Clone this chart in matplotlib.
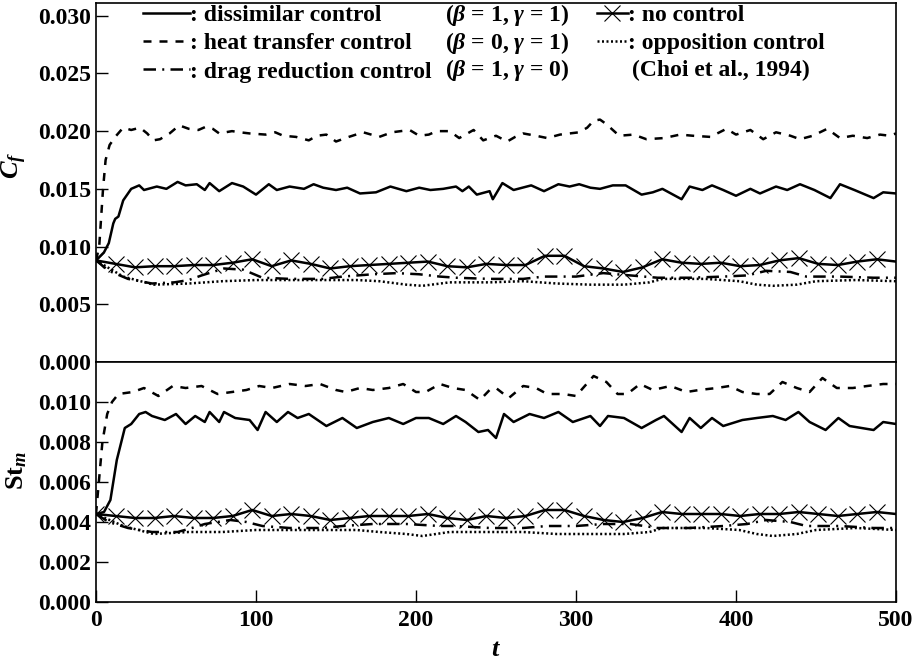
import numpy as np
import matplotlib
matplotlib.use("Agg")
import matplotlib.pyplot as plt

plt.rcParams['font.family'] = ['Liberation Serif', 'DejaVu Serif']
plt.rcParams['font.weight'] = 'bold'
plt.rcParams['mathtext.fontset'] = 'custom'
plt.rcParams['mathtext.rm'] = 'Liberation Serif:bold'
plt.rcParams['mathtext.it'] = 'Liberation Serif:italic:bold'
plt.rcParams['mathtext.bf'] = 'Liberation Serif:bold'

# === data: (t, value)
cf_dissimilar = [(0, 0.0088), (5, 0.0095), (8, 0.0103), (10.8, 0.0120), (12, 0.0124), (14, 0.0126),
                 (17, 0.0140), (22, 0.0150), (27, 0.0153), (30, 0.0149), (38, 0.0152), (44, 0.0150),
                 (51, 0.0156), (56, 0.0153), (63, 0.0154), (68, 0.0149), (71, 0.0155), (77, 0.0148),
                 (85, 0.0155), (92, 0.0152), (100, 0.0145), (108, 0.0154), (113, 0.0149), (121, 0.0152),
                 (130, 0.0150), (136, 0.0154), (142, 0.0151), (150, 0.0149), (157, 0.0151), (165, 0.0146),
                 (175, 0.0147), (184, 0.0152), (194, 0.0148), (202, 0.0151), (209, 0.0149), (217, 0.0150),
                 (225, 0.0152), (229, 0.0148), (233, 0.0152), (238, 0.0145), (246, 0.0148), (248, 0.0141),
                 (254, 0.0155), (261, 0.0149), (272, 0.0153), (280, 0.0148), (289, 0.0154), (296, 0.0152),
                 (302, 0.0154), (309, 0.0151), (315, 0.0150), (323, 0.0153), (331, 0.0153), (341, 0.0145),
                 (348, 0.0147), (354, 0.0150), (366, 0.0141), (371, 0.0152), (379, 0.0149), (385, 0.0153),
                 (392, 0.0149), (400, 0.0144), (409, 0.0150), (415, 0.0146), (425, 0.0152), (432, 0.0149),
                 (440, 0.0154), (449, 0.0149), (459, 0.0142), (465, 0.0154), (474, 0.0149), (486, 0.0142),
                 (492, 0.0147), (500, 0.0146)]

cf_heat = [(0, 0.0088), (2, 0.0100), (4.4, 0.0150), (6, 0.0175), (8.5, 0.0188), (12, 0.0195),
           (17, 0.0203), (22, 0.0201), (27.5, 0.0203), (32, 0.0198), (35.8, 0.0192), (40, 0.0193),
           (46, 0.0198), (52, 0.0205), (58, 0.0202), (64, 0.0201), (69, 0.0204), (73, 0.0202),
           (77, 0.0198), (85, 0.0200), (90, 0.0199), (96, 0.0198), (106, 0.0197), (112, 0.0199),
           (117, 0.0196), (125, 0.0195), (133, 0.0192), (138, 0.0196), (144, 0.0197), (150, 0.0191),
           (158, 0.0195), (167, 0.0199), (172, 0.0197), (177, 0.0195), (185, 0.0199), (196, 0.0201),
           (202, 0.0196), (208, 0.0197), (213, 0.0200), (221, 0.0200), (227, 0.0194), (236, 0.0201),
           (242, 0.0192), (250, 0.0196), (257, 0.0191), (262, 0.0195), (267, 0.0198), (275, 0.0196),
           (282, 0.0194), (290, 0.0197), (302, 0.0199), (307, 0.0203), (311, 0.0209), (315, 0.0210),
           (319, 0.0206), (327, 0.0196), (336, 0.0197), (344, 0.0193), (355, 0.0194), (365, 0.0197),
           (373, 0.0196), (384, 0.0195), (394, 0.0202), (400, 0.0197), (409, 0.0201), (417, 0.0193),
           (425, 0.0199), (434, 0.0196), (440, 0.0193), (448, 0.0196), (457, 0.0202), (465, 0.0194),
           (473, 0.0196), (482, 0.0194), (490, 0.0197), (496, 0.0196), (500, 0.0198)]

cf_drag = [(0, 0.0088), (8, 0.0079), (20, 0.0072), (35, 0.0068), (49, 0.0069), (58, 0.0071),
           (66, 0.0075), (80, 0.0081), (92, 0.0080), (104, 0.0073), (121, 0.0072), (142, 0.0072),
           (154, 0.0074), (173, 0.0076), (188, 0.0077), (202, 0.0076), (215, 0.0074), (225, 0.0073),
           (246, 0.0072), (267, 0.0072), (280, 0.0074), (300, 0.0074), (317, 0.0077), (334, 0.0075),
           (351, 0.0073), (371, 0.0073), (392, 0.0074), (407, 0.0075), (419, 0.0079), (434, 0.0078),
           (444, 0.0074), (465, 0.0074), (486, 0.0073), (500, 0.0073)]

cf_opposition = [(0, 0.0088), (17, 0.0074), (36, 0.0067), (58, 0.0068), (79, 0.0070), (100, 0.0071),
                 (121, 0.0071), (142, 0.0071), (163, 0.0071), (177, 0.0070), (194, 0.0067), (204, 0.0066),
                 (221, 0.0069), (246, 0.0069), (267, 0.0070), (288, 0.0068), (309, 0.0067), (330, 0.0067),
                 (346, 0.0069), (354, 0.0072), (381, 0.0072), (402, 0.0070), (413, 0.0067), (423, 0.0066),
                 (438, 0.0067), (450, 0.0070), (475, 0.0071), (500, 0.0070)]

# no control: values at the marker positions (every ~12.2 time units) + end point
t_nocontrol = [0, 12.2, 24.4, 36.6, 48.8, 61, 73.2, 85.4, 97.6, 109.8, 122, 134.2, 146.4, 158.6,
               170.8, 183, 195.2, 207.4, 219.6, 231.8, 244, 256.2, 268.4, 280.6, 292.8, 305, 317.2,
               329.4, 341.6, 353.8, 366, 378.2, 390.4, 402.6, 414.8, 427, 439.2, 451.4, 463.6, 475.8,
               488, 500]
cf_nocontrol = [0.0088, 0.0085, 0.0082, 0.0083, 0.0083, 0.0084, 0.0084, 0.0086, 0.0089, 0.0083,
                0.0088, 0.0085, 0.0081, 0.0083, 0.0084, 0.0085, 0.0086, 0.0087, 0.0083, 0.0082,
                0.0085, 0.0084, 0.0084, 0.0092, 0.0092, 0.0083, 0.0081, 0.0078, 0.0082, 0.0089,
                0.0086, 0.0085, 0.0086, 0.0083, 0.0084, 0.0088, 0.0090, 0.0085, 0.0084, 0.0087,
                0.0089, 0.0087]
st_nocontrol = [0.0044, 0.0043, 0.0042, 0.0042, 0.0043, 0.0042, 0.0042, 0.0043, 0.0046, 0.0043,
                0.0044, 0.0043, 0.0041, 0.0042, 0.0043, 0.0043, 0.0043, 0.0044, 0.0042, 0.0041,
                0.0043, 0.0042, 0.0043, 0.0046, 0.0046, 0.0043, 0.0041, 0.0040, 0.0042, 0.0045,
                0.0044, 0.0044, 0.0044, 0.0043, 0.0044, 0.0044, 0.0045, 0.0044, 0.0043, 0.0044,
                0.0045, 0.0044]

st_dissimilar = [(0, 0.0044), (5, 0.0045), (9, 0.0051), (13, 0.0071), (18, 0.0087), (22, 0.0089),
                 (27, 0.0094), (31, 0.0095), (35, 0.0093), (43, 0.0091), (50, 0.0094), (56, 0.0089),
                 (62, 0.0093), (68, 0.0090), (71, 0.0095), (77, 0.0090), (80, 0.0095), (87, 0.0092),
                 (96, 0.0091), (101, 0.0086), (106, 0.0095), (113, 0.0090), (120, 0.0095), (126, 0.0092),
                 (133, 0.0094), (144, 0.0088), (154, 0.0092), (163, 0.0087), (173, 0.0090), (183, 0.0092),
                 (192, 0.0089), (200, 0.0092), (208, 0.0092), (217, 0.0089), (225, 0.0093), (231, 0.0090),
                 (239, 0.0085), (245, 0.0086), (250, 0.0082), (255, 0.0094), (261, 0.0090), (271, 0.0094),
                 (280, 0.0092), (289, 0.0095), (298, 0.0090), (309, 0.0093), (315, 0.0088), (320, 0.0093),
                 (330, 0.0092), (341, 0.0087), (350, 0.0091), (355, 0.0093), (366, 0.0085), (371, 0.0092),
                 (378, 0.0087), (385, 0.0092), (392, 0.0088), (404, 0.0091), (413, 0.0092), (423, 0.0093),
                 (431, 0.0091), (439, 0.0095), (446, 0.0090), (456, 0.0086), (464, 0.0092), (471, 0.0088),
                 (486, 0.0086), (492, 0.0090), (500, 0.0089)]

st_heat = [(0, 0.0044), (2, 0.0062), (4, 0.0080), (7, 0.0094), (10, 0.0100), (14, 0.0104),
           (23, 0.0105), (30, 0.0107), (39, 0.0103), (48, 0.0108), (56, 0.0107), (66, 0.0108),
           (76, 0.0104), (85, 0.0105), (94, 0.0106), (102, 0.0108), (110, 0.0107), (121, 0.0109),
           (131, 0.0108), (140, 0.0109), (150, 0.0106), (156, 0.0105), (165, 0.0107), (173, 0.0106),
           (183, 0.0107), (192, 0.0109), (200, 0.0105), (206, 0.0105), (215, 0.0109), (223, 0.0107),
           (231, 0.0106), (240, 0.0101), (246, 0.0106), (250, 0.0107), (258, 0.0102), (267, 0.0108),
           (275, 0.0107), (282, 0.0104), (292, 0.0104), (300, 0.0103), (311, 0.0113), (319, 0.0110),
           (326, 0.0104), (332, 0.0104), (340, 0.0109), (348, 0.0106), (359, 0.0108), (369, 0.0105),
           (377, 0.0106), (388, 0.0107), (396, 0.0108), (404, 0.0105), (413, 0.0104), (421, 0.0104),
           (429, 0.0110), (438, 0.0107), (446, 0.0105), (454, 0.0112), (463, 0.0107), (473, 0.0107),
           (482, 0.0108), (492, 0.0109), (500, 0.0109)]

st_drag = [(0, 0.0044), (8, 0.0040), (20, 0.0037), (35, 0.0035), (51, 0.0035), (60, 0.0037),
           (68, 0.0039), (84, 0.0041), (94, 0.0040), (104, 0.0038), (121, 0.0037), (142, 0.0037),
           (154, 0.0038), (173, 0.0039), (194, 0.0039), (215, 0.0038), (225, 0.0038), (246, 0.0037),
           (267, 0.0037), (282, 0.0038), (300, 0.0038), (317, 0.0039), (334, 0.0039), (351, 0.0037),
           (371, 0.0037), (392, 0.0038), (407, 0.0039), (419, 0.0041), (434, 0.0040), (444, 0.0038),
           (465, 0.0038), (486, 0.0037), (500, 0.0037)]

st_opposition = [(0, 0.0044), (17, 0.0038), (36, 0.0034), (58, 0.0035), (79, 0.0035), (100, 0.0036),
                 (121, 0.0036), (142, 0.0036), (163, 0.0036), (177, 0.0035), (194, 0.0034), (204, 0.0033),
                 (221, 0.0035), (246, 0.0035), (267, 0.0035), (288, 0.0034), (309, 0.0034), (330, 0.0034),
                 (346, 0.0035), (354, 0.0037), (381, 0.0037), (402, 0.0036), (413, 0.0034), (423, 0.0033),
                 (438, 0.0034), (450, 0.0036), (475, 0.0037), (500, 0.0036)]

legend_names = [': dissimilar control', ': heat transfer control', ': drag reduction control']
legend_params = [r'($\beta$ = 1, $\gamma$ = 1)', r'($\beta$ = 0, $\gamma$ = 1)', r'($\beta$ = 1, $\gamma$ = 0)']

# === styles
LW = 1.8
sty_dis = dict(color='k', lw=LW, ls='-')
sty_heat = dict(color='k', lw=LW, ls=(0, (3.2, 3.2)))
sty_drag = dict(color='k', lw=LW, ls=(0, (5, 2.5, 0.8, 2.5)))
sty_opp = dict(color='k', lw=LW, ls=(0, (0.8, 1.0)))
sty_no = dict(color='k', lw=LW, ls='-', marker='x', ms=12, mew=0.8)

fig = plt.figure(figsize=(9.16, 6.66), dpi=100)
L, R = 96 / 916, 896 / 916
y_mid = 1 - 362 / 666
ax1 = fig.add_axes([L, y_mid, R - L, (1 - 3 / 666) - y_mid])
ax2 = fig.add_axes([L, 1 - 602 / 666, R - L, y_mid - (1 - 602 / 666)])


def xy(pairs):
    a = np.array(pairs)
    return a[:, 0], a[:, 1]


def draw(ax, dis, heat, drag, opp, nocon):
    h1, = ax.plot(*xy(dis), **sty_dis)
    h2, = ax.plot(*xy(heat), **sty_heat)
    h3, = ax.plot(*xy(drag), **sty_drag)
    h5, = ax.plot(*xy(opp), **sty_opp)
    h4, = ax.plot(t_nocontrol, nocon, markevery=list(range(len(t_nocontrol) - 1)), **sty_no)
    return h1, h2, h3, h4, h5


hs = draw(ax1, cf_dissimilar, cf_heat, cf_drag, cf_opposition, cf_nocontrol)
draw(ax2, st_dissimilar, st_heat, st_drag, st_opposition, st_nocontrol)

for ax in (ax1, ax2):
    ax.set_xlim(0, 500)
    for s in ax.spines.values():
        s.set_linewidth(1.2)
    ax.tick_params(direction='in', length=8.6, width=1.0, labelsize=17, right=False, top=False)

ax1.set_ylim(0, 0.0311)
ax1.set_yticks(np.arange(0, 0.0301, 0.005))
ax1.yaxis.set_major_formatter(matplotlib.ticker.FormatStrFormatter('%.3f'))
ax1.tick_params(axis='x', bottom=False, labelbottom=False)

ax2.set_ylim(0, 0.012)
ax2.set_yticks(np.arange(0, 0.0101, 0.002))
ax2.yaxis.set_major_formatter(matplotlib.ticker.FormatStrFormatter('%.3f'))
ax2.set_xticks(np.arange(0, 501, 100))
ax2.tick_params(axis='x', pad=6)

fig.text(0.016, 1 - 165 / 666, r'$C_f$', rotation=90, ha='center', va='center', fontsize=19)
fig.text(0.018, 1 - 470 / 666, r'St$_m$', rotation=90, ha='center', va='center', fontsize=19)
fig.text(496 / 916, 1 - 650 / 666, r'$t$', ha='center', va='center', fontsize=19)

# === legend
row_y = [15, 43, 70]
leg1 = ax1.legend(hs[:3], legend_names, loc='upper left', bbox_to_anchor=((143 - 96) / 800, 0.995),
                  frameon=False, fontsize=17, handlelength=2.0, handletextpad=0.0,
                  labelspacing=0.28, borderpad=0, borderaxespad=0)
ax1.add_artist(leg1)
for p, yy in zip(legend_params, row_y):
    ax1.text((445 - 96) / 800, (362 - yy) / 359, p, fontsize=17, va='center', ha='left',
             transform=ax1.transAxes)

ax1.legend([hs[3], hs[4]], [': no control', ': opposition control'], loc='upper left',
           bbox_to_anchor=((597 - 96) / 800, 0.995), frameon=False, fontsize=17, handlelength=1.3,
           handletextpad=0.0, labelspacing=0.28, borderpad=0, borderaxespad=0, numpoints=1)
ax1.text((632 - 96) / 800, (362 - row_y[2]) / 359, '(Choi et al., 1994)', fontsize=17, va='center',
         ha='left', transform=ax1.transAxes)

fig.savefig('out.png', dpi=100)
